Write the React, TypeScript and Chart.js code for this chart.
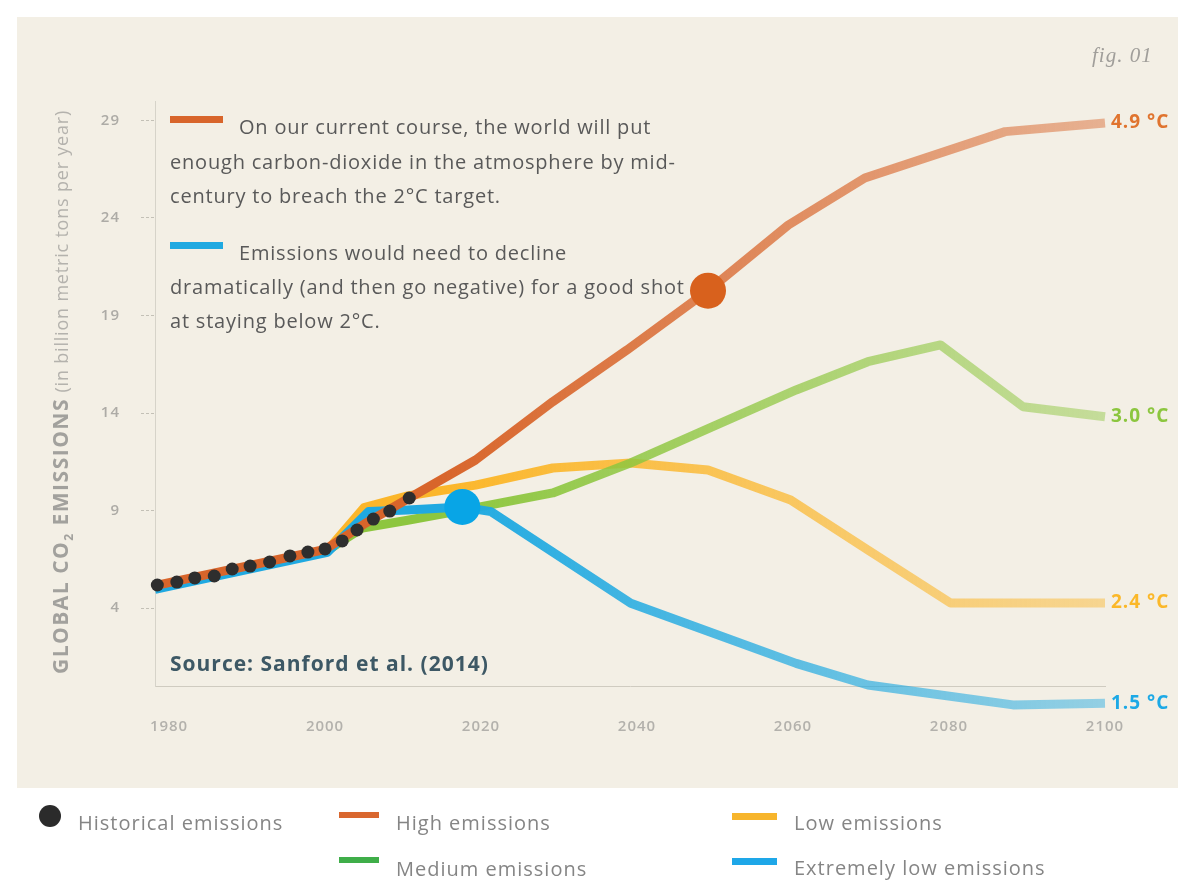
import React, { useEffect, useRef } from 'react';
import { Chart, registerables } from 'chart.js';

Chart.register(...registerables);

// ---- data ----
const X_TICKS = [1980, 2000, 2020, 2040, 2060, 2080, 2100];
const Y_TICKS = [4, 9, 14, 19, 24, 29];

const HIST_YEARS = [1978.5, 1981.0, 1983.3, 1985.8, 1988.1, 1990.4, 1992.9, 1995.5, 1997.8, 2000.0, 2002.2, 2004.1, 2006.2, 2008.3, 2010.8];
const HIST_VALUES = [5.18, 5.33, 5.54, 5.64, 6.0, 6.15, 6.36, 6.67, 6.87, 7.03, 7.44, 8.0, 8.56, 8.97, 9.64];

const HIGH_YEARS = [1978.2, 2000.0, 2005.0, 2010.8, 2019.3, 2029.2, 2038.7, 2049.1, 2059.4, 2069.2, 2087.2, 2100];
const HIGH_VALUES = [5.15, 7.0, 8.3, 9.64, 11.59, 14.58, 17.23, 20.27, 23.64, 26.05, 28.43, 28.87];

const MEDIUM_YEARS = [1978.2, 2000.3, 2004.8, 2010.6, 2016.7, 2029.2, 2039.2, 2049.7, 2060.4, 2069.6, 2078.9, 2089.5, 2100];
const MEDIUM_VALUES = [5.05, 6.95, 8.1, 8.5, 8.94, 9.9, 11.44, 13.3, 15.18, 16.63, 17.49, 14.32, 13.81];

const LOW_YEARS = [1978.2, 2000.3, 2005.0, 2010.6, 2019.3, 2029.2, 2039.2, 2049.1, 2059.7, 2069.6, 2080.2, 2100];
const LOW_VALUES = [5.05, 6.95, 9.15, 9.75, 10.3, 11.18, 11.44, 11.08, 9.54, 6.97, 4.26, 4.26];

const XLOW_YEARS = [1978.2, 2000.3, 2005.6, 2010.6, 2017.6, 2021.3, 2039.2, 2060.4, 2069.6, 2088.2, 2100];
const XLOW_VALUES = [4.95, 6.85, 8.95, 9.02, 9.18, 8.94, 4.24, 1.16, 0.05, -0.97, -0.89];

const MARKER_YEARS = [2049.1, 2017.6];
const MARKER_VALUES = [20.27, 9.18];
const MARKER_COLORS = ['#d8611d', '#08a5e6'];

const SERIES_NAMES = ['High emissions', 'Medium emissions', 'Low emissions', 'Extremely low emissions'];
const SERIES_COLORS = ['#d8652b', '#8dc63f', '#fbb62a', '#1fa9e1'];
const END_LABELS = ['4.9 °C', '3.0 °C', '2.4 °C', '1.5 °C'];
const END_LABEL_COLORS = ['#e0742f', '#8cc63f', '#fbb829', '#1ca9e6'];
const LEGEND_COLORS = ['#d9672f', '#3fae49', '#f7b52c', '#1ea7e8'];

const NOTE_HIGH = ['On our current course, the world will put', 'enough carbon-dioxide in the atmosphere by mid-', 'century to breach the 2°C target.'];
const NOTE_LOW = ['Emissions would need to decline', 'dramatically (and then go negative) for a good shot', 'at staying below 2°C.'];

const FONT = '"Open Sans", "DejaVu Sans", sans-serif';

function rgba(hex: string, a: number) {
  const n = parseInt(hex.slice(1), 16);
  return `rgba(${(n >> 16) & 255},${(n >> 8) & 255},${n & 255},${a})`;
}

function fade(hex: string, endAlpha: number) {
  return (ctx: any) => {
    const chart = ctx.chart;
    const area = chart.chartArea;
    if (!area) return hex;
    const g = chart.ctx.createLinearGradient(area.left, 0, area.right, 0);
    g.addColorStop(0, rgba(hex, 1));
    g.addColorStop(0.3, rgba(hex, 1));
    g.addColorStop(1, rgba(hex, endAlpha));
    return g;
  };
}

const pts = (xs: number[], ys: number[]) => xs.map((x, i) => ({ x, y: ys[i] }));

const spacingPlugin = {
  id: 'textSpacing',
  beforeDraw(chart: any) {
    try { chart.ctx.letterSpacing = '1px'; } catch (e) { /* ignore */ }
  },
};

const endLabelPlugin = {
  id: 'endLabels',
  afterDatasetsDraw(chart: any) {
    const c = chart.ctx;
    chart.data.datasets.forEach((ds: any, i: number) => {
      if (!ds.endLabel) return;
      const meta = chart.getDatasetMeta(i);
      const last = meta.data[meta.data.length - 1];
      if (!last) return;
      c.save();
      c.font = `bold 19px ${FONT}`;
      try { c.letterSpacing = '1px'; } catch (e) { /* ignore */ }
      c.fillStyle = ds.endColor;
      c.textBaseline = 'middle';
      c.textAlign = 'left';
      c.fillText(ds.endLabel, last.x + 6, last.y);
      c.restore();
    });
  },
};

export default function App() {
  const ref = useRef<HTMLCanvasElement>(null);

  useEffect(() => {
    const canvas = ref.current!;
    const seriesData = [
      pts(HIGH_YEARS, HIGH_VALUES),
      pts(MEDIUM_YEARS, MEDIUM_VALUES),
      pts(LOW_YEARS, LOW_VALUES),
      pts(XLOW_YEARS, XLOW_VALUES),
    ];
    const seriesOrder = [2, 4, 5, 3];
    const scenarioSets = seriesData.map((data, i) => ({
      label: SERIES_NAMES[i],
      data,
      borderColor: fade(SERIES_COLORS[i], 0.45),
      borderWidth: 9,
      pointRadius: 0,
      tension: 0,
      borderCapStyle: 'butt',
      borderJoinStyle: 'round',
      clip: false,
      order: seriesOrder[i],
      endLabel: END_LABELS[i],
      endColor: END_LABEL_COLORS[i],
    }));

    const chart = new Chart(canvas, {
      type: 'line',
      data: {
        datasets: [
          {
            label: 'markers',
            data: pts(MARKER_YEARS, MARKER_VALUES),
            showLine: false,
            pointRadius: 18,
            pointBorderWidth: 0,
            pointBackgroundColor: MARKER_COLORS,
            clip: false,
            order: 0,
          } as any,
          {
            label: 'Historical emissions',
            data: pts(HIST_YEARS, HIST_VALUES),
            showLine: false,
            pointRadius: 6.5,
            pointBorderWidth: 0,
            pointBackgroundColor: '#2e2e2e',
            clip: false,
            order: 1,
          },
          ...scenarioSets,
        ],
      },
      options: {
        animation: false,
        responsive: false,
        devicePixelRatio: 1,
        layout: { padding: { top: 101, right: 80, bottom: 150, left: 0 } },
        plugins: { legend: { display: false }, tooltip: { enabled: false } },
        scales: {
          x: {
            type: 'linear',
            min: 1978.2,
            max: 2100,
            afterBuildTicks: (scale: any) => {
              scale.ticks = X_TICKS.map((v) => ({ value: v }));
            },
            afterFit: (scale: any) => {
              scale.height = 45;
            },
            grid: { display: false },
            border: { display: true, color: '#cfcbc0', width: 1, dash: [2, 2] },
            ticks: {
              padding: 24,
              color: '#b3b1ac',
              font: { family: FONT, size: 15, weight: '600' },
              maxRotation: 0,
              autoSkip: false,
              callback: (v: any) => String(v),
            },
          },
          y: {
            type: 'linear',
            min: 0,
            max: 30,
            afterBuildTicks: (scale: any) => {
              scale.ticks = Y_TICKS.map((v) => ({ value: v }));
            },
            afterFit: (scale: any) => {
              scale.width = 155;
            },
            grid: {
              drawOnChartArea: false,
              drawTicks: true,
              tickLength: 14,
              tickColor: '#c3c0b6',
              tickBorderDash: [3, 2],
            },
            border: { display: true, color: '#d6d3c9', width: 1, dash: [2, 3] },
            ticks: {
              padding: 21,
              color: '#adaba6',
              font: { family: FONT, size: 15, weight: '600' },
              callback: (v: any) => String(v),
            },
          },
        },
      },
      plugins: [spacingPlugin, endLabelPlugin],
    } as any);
    return () => chart.destroy();
  }, []);

  const noteStyle = (left: number, center: number): React.CSSProperties => ({
    position: 'absolute',
    left,
    top: center - 14,
    height: 28,
    lineHeight: '28px',
    fontFamily: FONT,
    fontSize: 20,
    letterSpacing: 0.8,
    color: '#595959',
    whiteSpace: 'nowrap',
  });

  const legendText = (left: number, center: number): React.CSSProperties => ({
    position: 'absolute',
    left,
    top: center - 14,
    height: 28,
    lineHeight: '28px',
    fontFamily: FONT,
    fontSize: 20,
    letterSpacing: 1.0,
    color: '#858585',
    whiteSpace: 'nowrap',
  });

  const bar = (left: number, top: number, w: number, h: number, color: string): React.CSSProperties => ({
    position: 'absolute', left, top, width: w, height: h, background: color,
  });

  return (
    <div style={{ position: 'absolute', left: 0, top: 0, width: 1185, height: 881, background: '#ffffff', overflow: 'hidden' }}>
      <div style={{ position: 'absolute', left: 17, top: 17, width: 1161, height: 771, background: '#f3efe5' }} />
      <canvas ref={ref} width={1185} height={881} style={{ position: 'absolute', left: 0, top: 0, width: 1185, height: 881 }} />

      {/* y axis title */}
      <div
        style={{
          position: 'absolute', left: 60, top: 392,
          transform: 'translate(-50%, -50%) rotate(-90deg)',
          whiteSpace: 'nowrap', fontFamily: FONT, color: '#a2a19d',
        }}
      >
        <span style={{ fontWeight: 700, fontSize: 21, letterSpacing: 1.5 }}>
          GLOBAL CO<span style={{ fontSize: 12, position: 'relative', top: 5 }}>2</span> EMISSIONS
        </span>
        <span style={{ fontSize: 18, color: '#b4b2ad', letterSpacing: 0.8 }}> (in billion metric tons per year)</span>
      </div>

      {/* fig label */}
      <div style={{ position: 'absolute', left: 1092, top: 43, fontFamily: '"Liberation Serif", serif', fontStyle: 'italic', fontSize: 21, letterSpacing: 1, color: '#a09e9a' }}>
        fig. 01
      </div>

      {/* annotations */}
      <div style={bar(170, 116, 53, 7, SERIES_COLORS[0])} />
      <div style={noteStyle(239, 127)}>{NOTE_HIGH[0]}</div>
      <div style={noteStyle(170, 162)}>{NOTE_HIGH[1]}</div>
      <div style={noteStyle(170, 196)}>{NOTE_HIGH[2]}</div>
      <div style={bar(170, 242, 53, 7, SERIES_COLORS[3])} />
      <div style={noteStyle(239, 253)}>{NOTE_LOW[0]}</div>
      <div style={noteStyle(170, 287)}>{NOTE_LOW[1]}</div>
      <div style={noteStyle(170, 321)}>{NOTE_LOW[2]}</div>

      {/* source */}
      <div style={{ position: 'absolute', left: 170, top: 649, lineHeight: '28px', fontFamily: FONT, fontWeight: 700, fontSize: 21, letterSpacing: 1.0, color: '#3d5865', whiteSpace: 'nowrap' }}>
        Source: Sanford et al. (2014)
      </div>

      {/* legend */}
      <div style={{ position: 'absolute', left: 39, top: 805, width: 22, height: 22, borderRadius: 11, background: '#2b2b2b' }} />
      <div style={legendText(78, 823)}>Historical emissions</div>
      <div style={bar(339, 812, 40, 6, LEGEND_COLORS[0])} />
      <div style={legendText(396, 823)}>{SERIES_NAMES[0]}</div>
      <div style={bar(339, 857, 40, 6, LEGEND_COLORS[1])} />
      <div style={legendText(396, 869)}>{SERIES_NAMES[1]}</div>
      <div style={bar(732, 813, 45, 7, LEGEND_COLORS[2])} />
      <div style={legendText(794, 823)}>{SERIES_NAMES[2]}</div>
      <div style={bar(732, 858, 45, 7, LEGEND_COLORS[3])} />
      <div style={legendText(794, 868)}>{SERIES_NAMES[3]}</div>
    </div>
  );
}
